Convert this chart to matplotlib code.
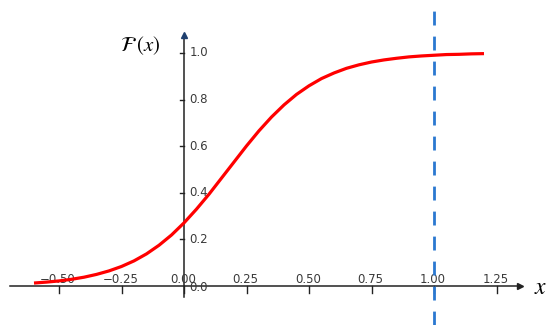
import matplotlib.pyplot as plt

plt.rcParams['mathtext.fontset'] = 'stix'

# curve
xs = [-0.60, -0.55, -0.50, -0.45, -0.40, -0.35, -0.30, -0.25, -0.20, -0.15,
      -0.10, -0.05, 0.00, 0.05, 0.10, 0.15, 0.20, 0.25, 0.30, 0.35,
      0.40, 0.45, 0.50, 0.55, 0.60, 0.65, 0.70, 0.75, 0.80, 0.85,
      0.90, 0.95, 1.00, 1.05, 1.10, 1.15, 1.20]
ys = [0.013, 0.017, 0.022, 0.029, 0.038, 0.050, 0.065, 0.084, 0.108, 0.138,
      0.175, 0.219, 0.271, 0.330, 0.394, 0.463, 0.532, 0.601, 0.666, 0.725,
      0.777, 0.822, 0.859, 0.890, 0.914, 0.934, 0.949, 0.961, 0.970, 0.977,
      0.983, 0.987, 0.990, 0.993, 0.994, 0.996, 0.997]

xticks = [-0.50, -0.25, 0.00, 0.25, 0.50, 0.75, 1.00, 1.25]
xticklabels = ['\u22120.50', '\u22120.25', '0.00', '0.25', '0.50', '0.75', '1.00', '1.25']
yticks = [0.2, 0.4, 0.6, 0.8, 1.0]
yticklabels = ['0.2', '0.4', '0.6', '0.8', '1.0']
vline_x = 1.0

fig = plt.figure(figsize=(5.5, 3.25), dpi=100, facecolor='white')
ax = fig.add_axes([0, 0, 1, 1])
ax.set_xlim(-0.736, 1.464)
ax.set_ylim(-0.167, 1.227)
ax.axis('off')

axis_col = '#222222'
lab_col = '#3a3a3a'

# axes lines with arrow heads
ax.plot([-0.696, 1.344], [0, 0], color=axis_col, lw=1.1, zorder=2)
ax.plot([1.344], [0], marker='>', color=axis_col, ms=5, zorder=2)
ax.plot([0, 0], [-0.047, 1.077], color=axis_col, lw=1.1, zorder=2)
ax.plot([0], [1.077], marker='^', color='#1f3f6f', ms=5, zorder=2)

# x ticks (downwards) and labels (above the axis)
for v, s in zip(xticks, xticklabels):
    ax.plot([v, v], [0, -0.028], color=axis_col, lw=1.0, zorder=2)
    ax.text(v - 0.005, 0.03, s, ha='center', va='center', fontsize=8.5, color=lab_col)

# y ticks (to the left) and labels (right of the axis)
for v, s in zip(yticks, yticklabels):
    ax.plot([-0.016, 0], [v, v], color=axis_col, lw=1.0, zorder=2)
    ax.text(0.022, v, s, ha='left', va='center', fontsize=8.5, color=lab_col)
ax.text(0.022, -0.008, '0.0', ha='left', va='center', fontsize=8.5, color=lab_col)

# curve
ax.plot(xs, ys, color='#ff0000', lw=2.3, zorder=3, solid_capstyle='butt')

# dashed vertical line
ax.axvline(vline_x, color='#2a78d0', lw=2.0, dashes=(5, 4), zorder=4)

# axis names
ax.text(-0.175, 1.030, r'$\mathcal{F}\,(x)$', ha='center', va='center', fontsize=15, color='black')
ax.text(1.425, -0.002, r'$x$', ha='center', va='center', fontsize=17, color='black')

fig.savefig('out.png', dpi=100, facecolor='white')
